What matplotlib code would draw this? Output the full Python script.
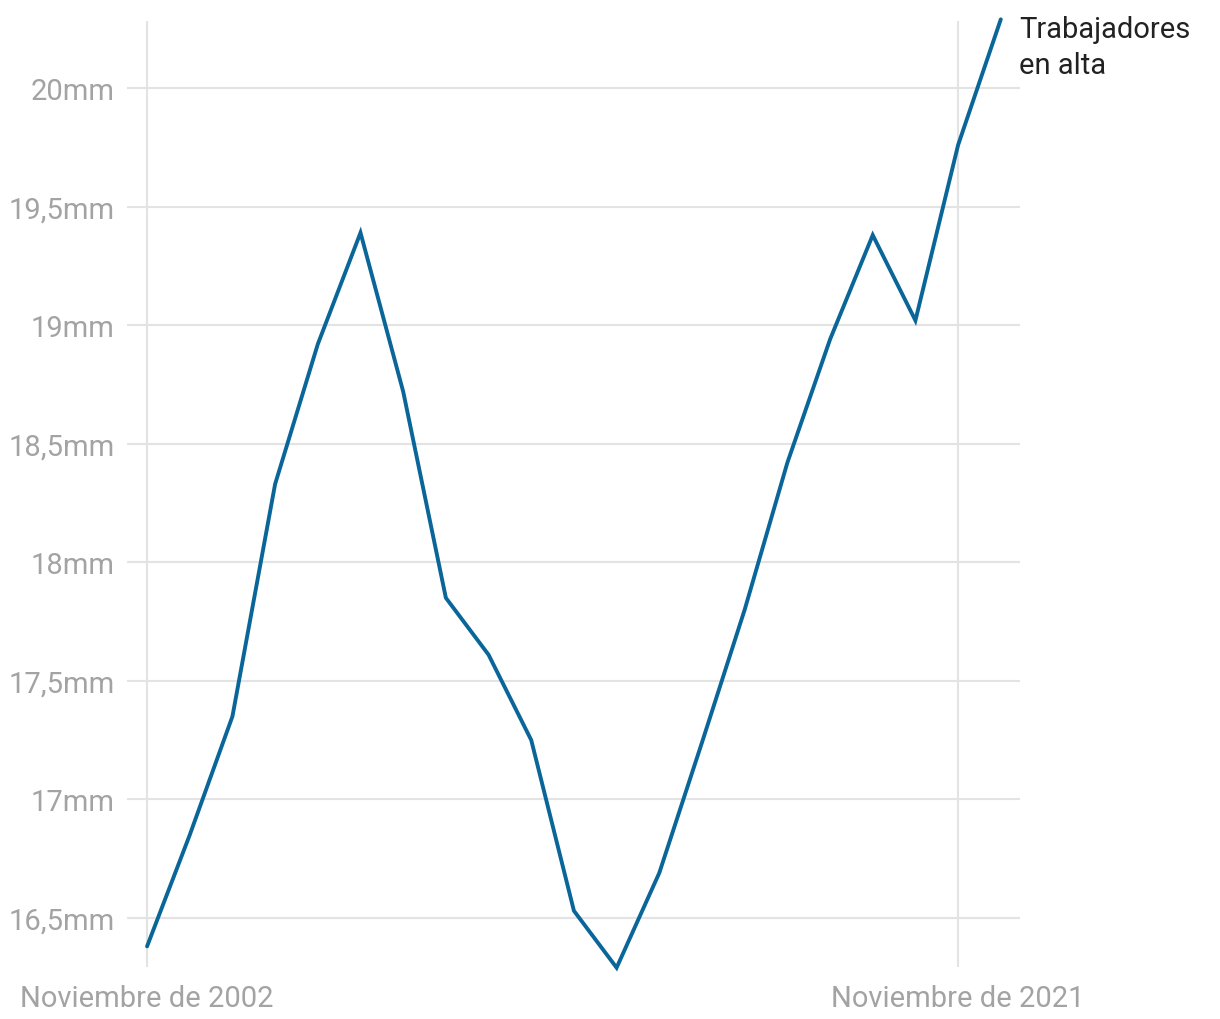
import matplotlib
matplotlib.use("Agg")
import matplotlib.pyplot as plt

# afiliados en alta (millones), noviembre de cada año
years = list(range(2002, 2023))
workers = [16.38, 16.85, 17.35, 18.33, 18.92, 19.39, 18.72, 17.85, 17.61, 17.25,
           16.53, 16.29, 16.69, 17.24, 17.80, 18.42, 18.94, 19.38, 19.02, 19.76, 20.29]
yticks = [16.5, 17, 17.5, 18, 18.5, 19, 19.5, 20]
ytick_labels = ["16,5mm", "17mm", "17,5mm", "18mm", "18,5mm", "19mm", "19,5mm", "20mm"]
xticks = [2002, 2021]
xtick_labels = ["Noviembre de 2002", "Noviembre de 2021"]
series_label = "Trabajadores\nen alta"

plt.rcParams['font.family'] = ['Roboto', 'DejaVu Sans']

fig = plt.figure(figsize=(12.2, 10.2), dpi=100)
# axes box in pixels: x 127..1020, y 22..968
ax = fig.add_axes([127 / 1220, 1 - 968 / 1020, (1020 - 127) / 1220, (968 - 22) / 1020])

ax.plot(years, workers, color="#0a6699", lw=2.8, solid_joinstyle="miter",
        solid_capstyle="round", clip_on=False, zorder=3)

ax.set_xlim(2001.53, 2022.45)
ax.set_ylim(16.293, 20.283)

for y in yticks:
    ax.axhline(y, color="#e3e3e3", lw=1.5, zorder=1)
for x in xticks:
    ax.axvline(x, color="#e3e3e3", lw=1.5, zorder=1)

ax.set_yticks(yticks)
ax.set_yticklabels(ytick_labels)
ax.set_xticks(xticks)
ax.set_xticklabels(xtick_labels)
ax.tick_params(length=0, colors="#a3a3a3", labelsize=21)
ax.tick_params(axis="y", pad=9)
ax.tick_params(axis="x", pad=12)
for s in ax.spines.values():
    s.set_visible(False)

ax.annotate(series_label, xy=(years[-1], workers[-1]), xytext=(13, 3),
            textcoords="offset points", ha="left", va="top",
            fontsize=21, color="#222222", linespacing=1.35, annotation_clip=False)

fig.savefig("out.png", dpi=100)
